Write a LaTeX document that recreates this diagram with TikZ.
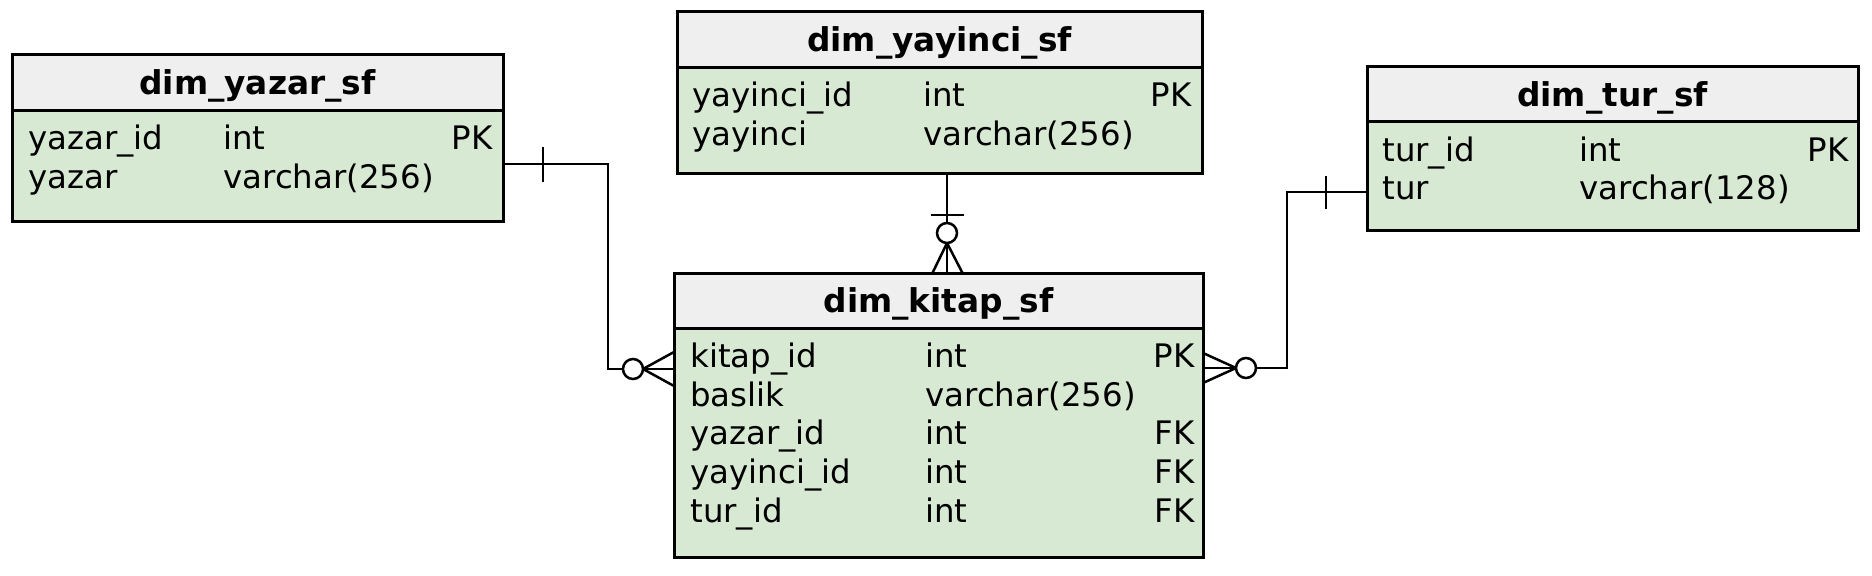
\documentclass[tikz,border=0pt]{standalone}
\usepackage{fontspec}
\setmainfont{DejaVu Sans}
\usetikzlibrary{calc}
\definecolor{bodygreen}{HTML}{D7E9D2}
\definecolor{hdrgray}{HTML}{EFEFEF}
\newcommand{\bodyfnt}{\fontsize{16.2pt}{19pt}\selectfont}
\newcommand{\titlefnt}{\fontsize{16.4pt}{19pt}\selectfont\bfseries}
\tikzset{
  tbl/.style={draw=black, line width=1.5pt, fill=bodygreen, anchor=north west, inner sep=0pt, outer sep=0pt},
  hdr/.style={draw=black, line width=1.5pt, fill=hdrgray, anchor=north west, inner sep=0pt, outer sep=0pt},
  ttl/.style={font=\titlefnt, anchor=base, inner sep=0pt},
  fld/.style={font=\bodyfnt, anchor=base west, inner sep=0pt},
  keyc/.style={font=\bodyfnt, anchor=base east, inner sep=0pt},
  conn/.style={line width=1.25pt, line join=miter},
  ring/.style={line width=1.25pt, fill=white},
}
\begin{document}
\begin{tikzpicture}[x=0.5pt, y=-0.5pt]
\useasboundingbox[fill=white] (0,0) rectangle (1872,576);

% ---- dim_yazar_sf
\node[tbl, minimum width=245.5pt, minimum height=83.5pt] (yazar) at (12,55) {};
\node[hdr, minimum width=245.5pt, minimum height=28pt] (yazarh) at (12,55) {};
\node[ttl] (yazart) at (257.5,95) {dim\_yazar\_sf};
\node[fld] (yz1a) at (28,150) {yazar\_id};
\node[fld] (yz1b) at (223,150) {int};
\node[keyc] (yz1c) at (493,150) {PK};
\node[fld] (yz2a) at (28,189) {yazar};
\node[fld] (yz2b) at (223,189) {varchar(256)};

% ---- dim_yayinci_sf
\node[tbl, minimum width=262.5pt, minimum height=81pt] (yayinci) at (677,12) {};
\node[hdr, minimum width=262.5pt, minimum height=28pt] (yayincih) at (677,12) {};
\node[ttl] (yayincit) at (939.5,52) {dim\_yayinci\_sf};
\node[fld] (yy1a) at (692,107) {yayinci\_id};
\node[fld] (yy1b) at (923,107) {int};
\node[keyc] (yy1c) at (1192,107) {PK};
\node[fld] (yy2a) at (692,146) {yayinci};
\node[fld] (yy2b) at (923,146) {varchar(256)};

% ---- dim_kitap_sf
\node[tbl, minimum width=264.5pt, minimum height=141.5pt] (kitap) at (674,274) {};
\node[hdr, minimum width=264.5pt, minimum height=27.5pt] (kitaph) at (674,274) {};
\node[ttl] (kitapt) at (938.5,313) {dim\_kitap\_sf};
\node[fld] (k1a) at (690,368) {kitap\_id};
\node[fld] (k1b) at (925,368) {int};
\node[keyc] (k1c) at (1195,368) {PK};
\node[fld] (k2a) at (690,407) {baslik};
\node[fld] (k2b) at (925,407) {varchar(256)};
\node[fld] (k3a) at (690,445) {yazar\_id};
\node[fld] (k3b) at (925,445) {int};
\node[keyc] (k3c) at (1195,445) {FK};
\node[fld] (k4a) at (690,484) {yayinci\_id};
\node[fld] (k4b) at (925,484) {int};
\node[keyc] (k4c) at (1195,484) {FK};
\node[fld] (k5a) at (690,523) {tur\_id};
\node[fld] (k5b) at (925,523) {int};
\node[keyc] (k5c) at (1195,523) {FK};

% ---- dim_tur_sf
\node[tbl, minimum width=245.5pt, minimum height=82pt] (tur) at (1367,67) {};
\node[hdr, minimum width=245.5pt, minimum height=27.5pt] (turh) at (1367,67) {};
\node[ttl] (turt) at (1612.5,107) {dim\_tur\_sf};
\node[fld] (t1a) at (1382,162) {tur\_id};
\node[fld] (t1b) at (1579,162) {int};
\node[keyc] (t1c) at (1849,162) {PK};
\node[fld] (t2a) at (1382,200) {tur};
\node[fld] (t2b) at (1579,200) {varchar(128)};

% ---- connector yazar -> kitap
\coordinate (yzs) at ($(yazar.north east)+(0,109)$);
\coordinate (c1) at ($(kitap.north west)+(-41,95)$);
\draw[conn] (yzs) -- ++(105,0) |- (c1);
\draw[conn] ($(yzs)+(40,-17)$) -- ($(yzs)+(40,18)$);
\draw[conn] ($(c1)+(10,0)$) -- ($(kitap.north west)+(0,78)$);
\draw[conn] ($(c1)+(10,0)$) -- ($(kitap.north west)+(0,95)$);
\draw[conn] ($(c1)+(10,0)$) -- ($(kitap.north west)+(0,112)$);
\draw[ring] (c1) circle[radius=5pt];

% ---- connector yayinci -> kitap
\coordinate (yys) at ($(yayinci.south)+(7.5,0)$);
\coordinate (c2) at ($(kitap.north)+(8.5,-41)$);
\draw[conn] (yys) -- (c2);
\draw[conn] ($(kitap.north)+(-8,-59)$) -- ($(kitap.north)+(25,-59)$);
\draw[conn] ($(c2)+(0,10)$) -- ($(kitap.north)+(-6.5,0)$);
\draw[conn] ($(c2)+(0,10)$) -- ($(kitap.north)+(8.5,0)$);
\draw[conn] ($(c2)+(0,10)$) -- ($(kitap.north)+(24.5,0)$);
\draw[ring] (c2) circle[radius=5pt];

% ---- connector tur -> kitap
\coordinate (trs) at ($(tur.north west)+(0,125)$);
\coordinate (c3) at ($(kitap.north east)+(43,94)$);
\draw[conn] (trs) -- ++(-80,0) |- (c3);
\draw[conn] ($(trs)+(-41,-16)$) -- ($(trs)+(-41,17)$);
\draw[conn] ($(c3)+(-10,0)$) -- ($(kitap.north east)+(0,79)$);
\draw[conn] ($(c3)+(-10,0)$) -- ($(kitap.north east)+(0,94)$);
\draw[conn] ($(c3)+(-10,0)$) -- ($(kitap.north east)+(0,109)$);
\draw[ring] (c3) circle[radius=5pt];
\end{tikzpicture}
\end{document}
